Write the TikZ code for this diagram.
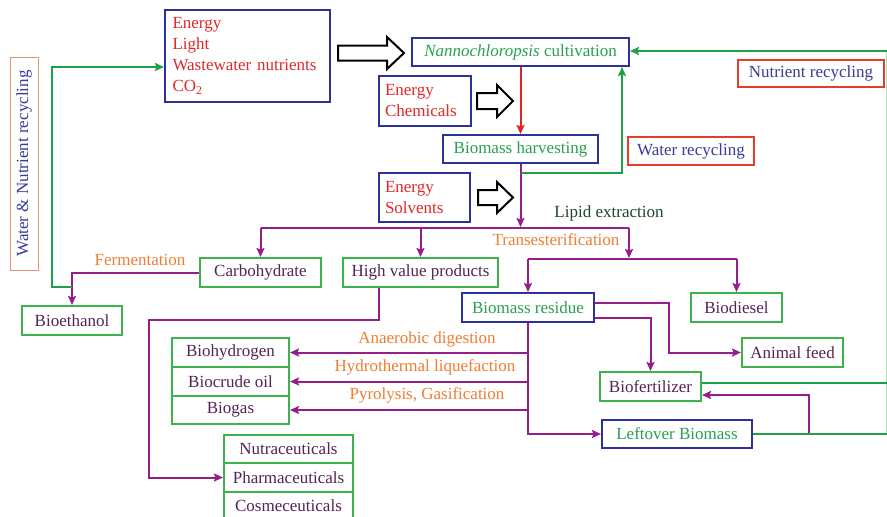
\documentclass[tikz,border=0pt]{standalone}
\usepackage{fontspec}
\setmainfont{Liberation Serif}
\usetikzlibrary{arrows.meta}

\definecolor{boxblue}{RGB}{45,50,150}
\definecolor{boxgreen}{RGB}{60,180,75}
\definecolor{boxred}{RGB}{230,60,40}
\definecolor{flowpurple}{RGB}{150,30,140}
\definecolor{flowgreen}{RGB}{30,160,70}
\definecolor{flowred}{RGB}{230,35,35}
\definecolor{txtred}{RGB}{225,40,40}
\definecolor{txtorange}{RGB}{240,125,50}
\definecolor{txtpurple}{RGB}{85,35,85}
\definecolor{txtgreen}{RGB}{40,160,80}
\definecolor{txtblue}{RGB}{55,60,150}
\definecolor{txtdkgreen}{RGB}{30,70,40}
\definecolor{wnbord}{RGB}{225,150,110}

% hollow block arrow: tail x, head base x, tip x, centre y, shaft half height, head half height
\newcommand{\blockarrow}[6]{%
  \draw[line width=2pt, fill=white, line join=miter]
    (#1,#4-#5) -- (#2,#4-#5) -- (#2,#4-#6) -- (#3,#4) -- (#2,#4+#6)
    -- (#2,#4+#5) -- (#1,#4+#5) -- cycle;}

\begin{document}
\begin{tikzpicture}[x=1pt,y=-1pt,
  every node/.style={font=\fontsize{17}{21}\selectfont, inner sep=0pt},
  sz/.style 2 args={minimum width=#1pt, minimum height=#2pt},
  bbox/.style={draw=boxblue, line width=2pt, text=txtgreen},
  gbox/.style={draw=boxgreen, line width=2pt, text=txtpurple},
  rbox/.style={draw=boxred, line width=2pt, text=txtblue},
  inbox/.style={draw=boxblue, line width=2pt, text=txtred, align=left},
  lbl/.style={text=txtorange},
  tip/.style={-{Stealth[length=9pt,width=8pt,inset=1.5pt]}},
  pl/.style={draw=flowpurple, line width=2pt},
  parr/.style={pl, tip},
  gl/.style={draw=flowgreen, line width=2pt},
  garr/.style={gl, tip},
  rarr/.style={draw=flowred, line width=2pt, tip}]

\useasboundingbox (0,0) rectangle (887,517);
\fill[white] (0,0) rectangle (887,517);

% ---- inputs and cultivation ----
\node[inbox, sz={165}{92}, text width=150pt] (inputs) at (247.5,56)
  {Energy\\Light\\Wastewater nutrients\\CO\textsubscript{2}};
\node[bbox, sz={217}{28}] (cult) at (520.5,52)
  {\textit{Nannochloropsis} cultivation};
\node[inbox, sz={92}{50}, text width=80pt] (chem) at (425,101)
  {Energy\\Chemicals};
\node[bbox, sz={155}{28}] (harv) at (520.5,149) {Biomass harvesting};
\node[rbox, sz={126}{28}] (water) at (691,151) {Water recycling};
\node[rbox, sz={146}{27}] (nutr) at (811,73.5) {Nutrient recycling};
\node[inbox, sz={91}{49}, text width=79pt] (solv) at (424.5,197.5)
  {Energy\\Solvents};

\blockarrow{338}{387}{404}{53}{7.5}{16}
\blockarrow{477}{497}{513}{101}{8}{16}
\blockarrow{478}{497}{513}{197.5}{7.5}{15.5}

% ---- side label ----
\node[draw=wnbord, line width=0.8pt, rotate=90, sz={213}{28}, text=txtblue]
  (wnr) at (24,163.5) {Water \& Nutrient recycling};

% ---- products ----
\node[gbox, sz={121}{29}] (carb) at (260.5,272.5) {Carbohydrate};
\node[gbox, sz={155}{29}] (hvp) at (420.5,272.5) {High value products};
\node[gbox, sz={100}{29}] (etoh) at (72,320.5) {Bioethanol};
\node[bbox, sz={132}{29}] (resid) at (528,307.5) {Biomass residue};
\node[gbox, sz={91}{29}] (bdsl) at (736.5,307.5) {Biodiesel};
\node[gbox, sz={101}{29}] (feed) at (792.5,352.5) {Animal feed};
\node[gbox, sz={101}{29}] (bfert) at (650.5,386.5) {Biofertilizer};
\node[bbox, sz={150}{28}] (left) at (677,434) {Leftover Biomass};

\node[gbox, sz={117}{29}] (bh2) at (230.5,352.5) {Biohydrogen};
\node[gbox, sz={117}{29}] (bcru) at (230.5,381.5) {Biocrude oil};
\node[gbox, sz={117}{28}] (bgas) at (230.5,410) {Biogas};

\node[gbox, sz={129}{28}] (nutra) at (288.5,449) {Nutraceuticals};
\node[gbox, sz={129}{29}] (pharm) at (288.5,477.5) {Pharmaceuticals};
\node[gbox, sz={129}{28}] (cosm) at (288.5,506) {Cosmeceuticals};

% ---- process labels ----
\node[text=txtdkgreen] (lipid) at (609,213) {Lipid extraction};
\node[lbl] (trans) at (556,240) {Transesterification};
\node[lbl] (ferm) at (140,260) {Fermentation};
\node[lbl] (anaer) at (427,339) {Anaerobic digestion};
\node[lbl] (htl) at (425,367) {Hydrothermal liquefaction};
\node[lbl] (pyro) at (427,395) {Pyrolysis, Gasification};

% ---- junction points ----
\coordinate (wj) at (520.5,173);
\coordinate (bar1L) at (260.5,228);
\coordinate (bar1M) at (520.5,228);
\coordinate (bar1R) at (629,228);
\coordinate (bar2) at (629,259);
\coordinate (fj) at (72,287);
\coordinate (rtop) at (887,51);
\coordinate (rbot) at (887,434);
\coordinate (lj) at (809,434);

% ---- main flow ----
\draw[rarr] (cult.south) -- (harv.north);
\draw[parr] (harv.south) -- ([yshift=1pt]bar1M);
\draw[pl] (bar1L) -- (bar1R);
\draw[parr] (bar1L) -- (carb.north);
\draw[parr] (hvp.north |- bar1L) -- (hvp.north);
\draw[parr] (bar1R) -- ([yshift=1pt]bar2);
\draw[pl] (resid.north |- bar2) -- (bdsl.north |- bar2);
\draw[parr] (resid.north |- bar2) -- (resid.north);
\draw[parr] (bdsl.north |- bar2) -- (bdsl.north);

\draw[parr] (carb.west) -| (etoh.north);
\draw[parr] ([xshift=-41.5pt]hvp.south) -- ++(0,32)
  -| ([xshift=-74pt]pharm.west) -- (pharm.west);

\draw[parr] (resid.south) |- (left.west);
\draw[parr] (resid.south |- bh2.east) -- (bh2.east);
\draw[parr] (resid.south |- bcru.east) -- (bcru.east);
\draw[parr] (resid.south |- bgas.east) -- (bgas.east);

\draw[parr] ([yshift=4.5pt]resid.east) -- ++(74,0) |- (feed.west);
\draw[parr] ([yshift=-10.5pt]resid.east) -| (bfert.north);
\draw[parr] (lj) |- ([yshift=-8.5pt]bfert.east);

% ---- recycling loops ----
\draw[garr] (wj) -| ([xshift=101.5pt]cult.south);
\draw[garr] (rtop) -- (cult.east |- rtop);
\draw[gl] (left.east) -- (rbot);
\draw[gl] ([yshift=3.5pt]bfert.east) -- ++(186.5,0);
\draw[gl, opacity=0.35] (rtop) -- (rbot);
\draw[garr] (fj) -- ++(-20,0) |- ([yshift=-11pt]inputs.west);
\end{tikzpicture}
\end{document}
